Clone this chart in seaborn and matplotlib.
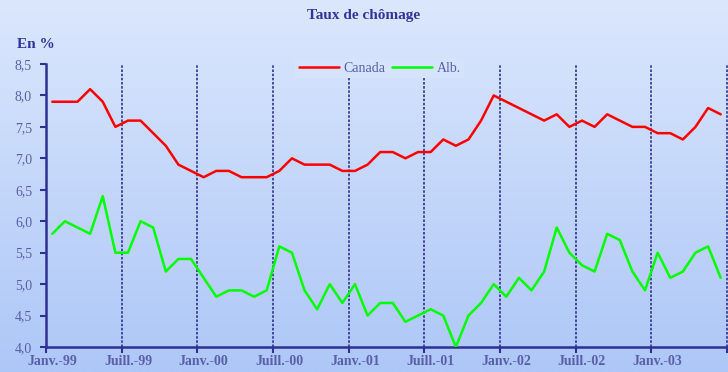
import numpy as np
import pandas as pd
import matplotlib
matplotlib.use("Agg")
import matplotlib.pyplot as plt
import seaborn as sns
from matplotlib.colors import LinearSegmentedColormap
from matplotlib.ticker import FixedLocator, FuncFormatter, NullFormatter

# Monthly unemployment rate (%), January 1999 to June 2003
canada = [7.9, 7.9, 7.9, 8.1, 7.9, 7.5, 7.6, 7.6, 7.4, 7.2,
          6.9, 6.8, 6.7, 6.8, 6.8, 6.7, 6.7, 6.7, 6.8, 7.0,
          6.9, 6.9, 6.9, 6.8, 6.8, 6.9, 7.1, 7.1, 7.0, 7.1,
          7.1, 7.3, 7.2, 7.3, 7.6, 8.0, 7.9, 7.8, 7.7, 7.6,
          7.7, 7.5, 7.6, 7.5, 7.7, 7.6, 7.5, 7.5, 7.4, 7.4,
          7.3, 7.5, 7.8, 7.7]
alberta = [5.8, 6.0, 5.9, 5.8, 6.4, 5.5, 5.5, 6.0, 5.9, 5.2,
           5.4, 5.4, 5.1, 4.8, 4.9, 4.9, 4.8, 4.9, 5.6, 5.5,
           4.9, 4.6, 5.0, 4.7, 5.0, 4.5, 4.7, 4.7, 4.4, 4.5,
           4.6, 4.5, 4.0, 4.5, 4.7, 5.0, 4.8, 5.1, 4.9, 5.2,
           5.9, 5.5, 5.3, 5.2, 5.8, 5.7, 5.2, 4.9, 5.5, 5.1,
           5.2, 5.5, 5.6, 5.1]
series_names = ["Canada", "Alb."]
tick_labels = ["Janv.-99", "Juill.-99", "Janv.-00", "Juill.-00", "Janv.-01",
               "Juill.-01", "Janv.-02", "Juill.-02", "Janv.-03"]

n = len(canada)
df = pd.DataFrame({
    "mois": list(range(n)) * 2,
    "taux": canada + alberta,
    "serie": [series_names[0]] * n + [series_names[1]] * n,
})

navy = "#2e3192"
title_col = "#333399"
label_col = "#5a5fa8"

sns.set_theme(style="white")
plt.rcParams["font.family"] = ["Liberation Serif", "DejaVu Serif"]

fig = plt.figure(figsize=(7.28, 3.72), dpi=100)

# vertical gradient background over the whole figure
bg = fig.add_axes([0, 0, 1, 1])
grad = np.linspace(0, 1, 256).reshape(-1, 1)
cmap = LinearSegmentedColormap.from_list("bg", ["#dbe7fd", "#adc7f7"])
bg.imshow(grad, aspect="auto", cmap=cmap, extent=[0, 1, 0, 1], origin="upper")
bg.axis("off")
bg.set_zorder(0)

ax = fig.add_axes([46 / 728, 25 / 372, 681 / 728, 283 / 372])
ax.set_zorder(1)
ax.set_facecolor("none")

sns.lineplot(data=df, x="mois", y="taux", hue="serie",
             palette={"Canada": "#ff0000", "Alb.": "#00ff00"},
             linewidth=1.8, legend=False, ax=ax, zorder=3)

ax.set_xlim(-0.5, n - 0.5)
ax.set_ylim(4.0, 8.5)

# dashed separators every six months
for xb in np.arange(5.5, n, 6):
    ax.axvline(xb, color=navy, lw=1.2, ls=(0, (1.5, 1)), zorder=1, clip_on=False)

# y axis
ax.set_yticks(np.arange(4.0, 8.51, 0.5))
ax.yaxis.set_major_formatter(FuncFormatter(lambda v, p: f"{v:.1f}".replace(".", ",")))
ax.tick_params(axis="y", direction="out", length=4, width=1.5, color=navy,
               labelcolor=label_col, labelsize=10, pad=6, left=True)

# x axis: tick marks on month boundaries, labels centred on the months
ax.xaxis.set_major_locator(FixedLocator(np.arange(-0.5, n, 6)))
ax.xaxis.set_major_formatter(NullFormatter())
ax.xaxis.set_minor_locator(FixedLocator(np.arange(0, n, 6)))
ax.set_xticklabels(tick_labels, minor=True)
ax.tick_params(axis="x", which="major", direction="out", length=4, width=1.5,
               color=navy, bottom=True)
ax.tick_params(axis="x", which="minor", length=0, pad=6, labelsize=10,
               labelcolor=label_col, bottom=True)
for t in ax.get_xticklabels(minor=True):
    t.set_fontweight("bold")

for s in ["top", "right"]:
    ax.spines[s].set_visible(False)
for s in ["left", "bottom"]:
    ax.spines[s].set_color(navy)
    ax.spines[s].set_linewidth(1.8)

ax.set_xlabel("")
ax.set_ylabel("")

leg = ax.legend(handles=ax.lines[:2], labels=series_names, ncol=2,
                loc="center", bbox_to_anchor=(0.49, 0.985),
                frameon=True, facecolor="#d5e3fc", edgecolor="none",
                framealpha=1, fancybox=False, fontsize=10,
                handlelength=2.9, handletextpad=0.3, columnspacing=0.5,
                borderpad=0.25)
for t in leg.get_texts():
    t.set_color(label_col)

fig.text(364 / 728, 1 - 16 / 372, "Taux de chômage", ha="center", va="center",
         fontsize=11, fontweight="bold", color=title_col)
fig.text(17 / 728, 1 - 44 / 372, "En %", ha="left", va="center",
         fontsize=11, fontweight="bold", color=title_col)

fig.savefig("out.png", dpi=100)
